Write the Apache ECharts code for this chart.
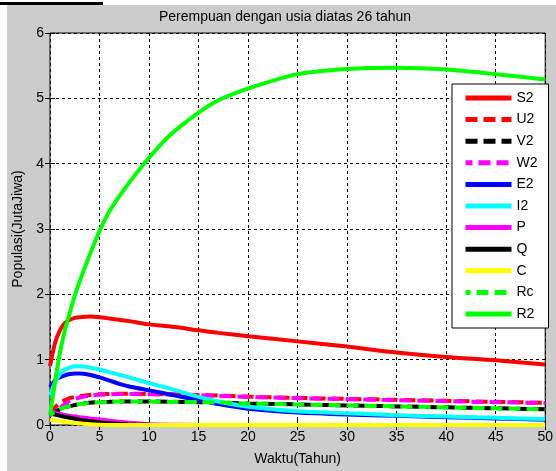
<!DOCTYPE html>
<html>
<head>
<meta charset="utf-8">
<script src="https://cdn.jsdelivr.net/npm/echarts@6/dist/echarts.min.js"></script>
<style>
  html, body { margin: 0; padding: 0; background: #ffffff; }
  #frame { position: absolute; left: 7px; top: 5px; width: 549px; height: 466px; background: #cccccc; }
  #bar { position: absolute; left: 0; top: 2px; width: 103px; height: 3px; background: #000000; }
  #chart { position: absolute; left: 0; top: 0; width: 556px; height: 471px; }
</style>
</head>
<body>
<div id="frame"></div>
<div id="bar"></div>
<div id="chart"></div>
<script>
// Time axis (years)
const tahun = [0, 0.5, 1, 1.5, 2, 2.5, 3, 4, 5, 6, 7, 8, 10, 12, 15, 17, 20, 25, 30, 35, 40, 45, 50];

// Population compartments (million people)
const S2 = [0.9, 1.25, 1.45, 1.56, 1.61, 1.64, 1.65, 1.66, 1.65, 1.63, 1.61, 1.59, 1.54, 1.51, 1.45, 1.41, 1.36, 1.28, 1.2, 1.11, 1.04, 0.99, 0.925];
const U2 = [0.17, 0.27, 0.34, 0.38, 0.41, 0.43, 0.44, 0.46, 0.47, 0.475, 0.48, 0.48, 0.475, 0.47, 0.46, 0.45, 0.435, 0.415, 0.4, 0.385, 0.37, 0.355, 0.34];
const V2 = [0.15, 0.2, 0.24, 0.27, 0.29, 0.305, 0.32, 0.34, 0.35, 0.355, 0.36, 0.36, 0.36, 0.355, 0.35, 0.345, 0.33, 0.315, 0.3, 0.285, 0.27, 0.255, 0.24];
const W2 = [0.15, 0.2, 0.26, 0.32, 0.37, 0.4, 0.42, 0.45, 0.465, 0.47, 0.475, 0.475, 0.47, 0.465, 0.455, 0.445, 0.43, 0.41, 0.395, 0.38, 0.365, 0.35, 0.335];
const E2 = [0.58, 0.68, 0.73, 0.76, 0.78, 0.79, 0.79, 0.77, 0.73, 0.68, 0.63, 0.59, 0.53, 0.47, 0.38, 0.32, 0.25, 0.19, 0.16, 0.14, 0.12, 0.1, 0.08];
const I2 = [0.45, 0.65, 0.78, 0.85, 0.88, 0.9, 0.9, 0.88, 0.85, 0.81, 0.77, 0.73, 0.64, 0.56, 0.43, 0.36, 0.28, 0.21, 0.18, 0.15, 0.13, 0.11, 0.09];
const P  = [0.2, 0.185, 0.17, 0.155, 0.14, 0.13, 0.12, 0.1, 0.085, 0.065, 0.05, 0.035, 0.012, 0.005, 0.001, 0, 0, 0, 0, 0, 0, 0, 0];
const Q  = [0.18, 0.16, 0.14, 0.125, 0.11, 0.095, 0.08, 0.06, 0.04, 0.025, 0.015, 0.008, 0.002, 0, 0, 0, 0, 0, 0, 0, 0, 0, 0];
const C  = [0.08, 0.07, 0.06, 0.05, 0.04, 0.03, 0.025, 0.012, 0.004, 0, 0, 0, 0, 0, 0, 0, 0, 0, 0, 0, 0, 0, 0];
const Rc = [0.15, 0.2, 0.24, 0.27, 0.29, 0.305, 0.32, 0.34, 0.35, 0.355, 0.36, 0.36, 0.36, 0.355, 0.35, 0.345, 0.33, 0.315, 0.3, 0.285, 0.27, 0.255, 0.24];
const R2 = [0.15, 0.65, 1.1, 1.45, 1.72, 1.98, 2.2, 2.6, 2.97, 3.27, 3.5, 3.71, 4.09, 4.42, 4.78, 4.97, 5.15, 5.37, 5.45, 5.47, 5.44, 5.37, 5.29];

const xTicks = [0, 5, 10, 15, 20, 25, 30, 35, 40, 45, 50];
const yTicks = [0, 1, 2, 3, 4, 5, 6];

const FONT = "'Liberation Sans', Arial, sans-serif";
const DASH = [12, 6];

function pairs(values) {
  return tahun.map((t, i) => [t, values[i]]);
}

function line(name, values, color, dashed, offset) {
  return {
    name: name,
    type: 'line',
    data: pairs(values),
    symbol: 'none',
    smooth: 0.25,
    animation: false,
    lineStyle: {
      color: color,
      width: 4,
      type: dashed ? DASH : 'solid',
      dashOffset: offset || 0
    },
    itemStyle: { color: color }
  };
}

const series = [
  line('S2', S2, '#ff0000', false),
  line('U2', U2, '#ff0000', true),
  line('V2', V2, '#000000', true),
  line('W2', W2, '#ff00ff', true, 5),
  line('E2', E2, '#0000ff', false),
  line('I2', I2, '#00ffff', false),
  line('P', P, '#ff00ff', false),
  line('Q', Q, '#000000', false),
  line('C', C, '#ffff00', false),
  line('Rc', Rc, '#00ff00', true, 7),
  line('R2', R2, '#00ff00', false)
];

const gridLine = { show: true, lineStyle: { color: '#000000', type: [3, 3], width: 1 } };
const tickIn = { show: true, inside: true, length: 5, lineStyle: { color: '#000000' } };

const chart = echarts.init(document.getElementById('chart'), null, { renderer: 'canvas' });
chart.setOption({
  backgroundColor: 'transparent',
  animation: false,
  title: {
    text: 'Perempuan dengan usia diatas 26 tahun',
    left: 280,
    textAlign: 'center',
    top: 5,
    textStyle: { fontFamily: FONT, fontSize: 14, fontWeight: 'normal', color: '#000000' }
  },
  grid: {
    left: 50, top: 33, right: 6, bottom: 44,
    show: true, backgroundColor: '#ffffff', borderColor: '#000000', borderWidth: 1
  },
  legend: {
    orient: 'vertical',
    left: 452, top: 84,
    padding: [7, 11, 7, 11],
    itemWidth: 46, itemHeight: 14, itemGap: 7.6,
    backgroundColor: '#ffffff', borderColor: '#000000', borderWidth: 1,
    itemStyle: { opacity: 0 },
    lineStyle: { width: 5 },
    textStyle: { fontFamily: FONT, fontSize: 14, color: '#000000', width: 22 },
    data: series.map(s => s.name)
  },
  xAxis: [{
    type: 'value', min: 0, max: 50, interval: 5,
    name: 'Waktu(Tahun)', nameLocation: 'middle', nameGap: 27,
    nameTextStyle: { fontFamily: FONT, fontSize: 14, color: '#000000' },
    axisLine: { show: false }, axisTick: tickIn,
    axisLabel: { fontFamily: FONT, fontSize: 14, color: '#000000', margin: 5,
      customValues: xTicks },
    splitLine: gridLine
  }, {
    type: 'value', min: 0, max: 50, interval: 5, position: 'top',
    axisLine: { show: false }, axisTick: tickIn, axisLabel: { show: false }, splitLine: { show: false }
  }],
  yAxis: [{
    type: 'value', min: 0, max: 6, interval: 1,
    name: 'Populasi(JutaJiwa)', nameLocation: 'middle', nameGap: 24, nameRotate: 90,
    nameTextStyle: { fontFamily: FONT, fontSize: 14, color: '#000000' },
    axisLine: { show: false }, axisTick: tickIn,
    axisLabel: { fontFamily: FONT, fontSize: 14, color: '#000000', margin: 6,
      customValues: yTicks },
    splitLine: gridLine
  }, {
    type: 'value', min: 0, max: 6, interval: 1, position: 'right',
    axisLine: { show: false }, axisTick: tickIn, axisLabel: { show: false }, splitLine: { show: false }
  }],
  series: series
});
</script>
</body>
</html>
